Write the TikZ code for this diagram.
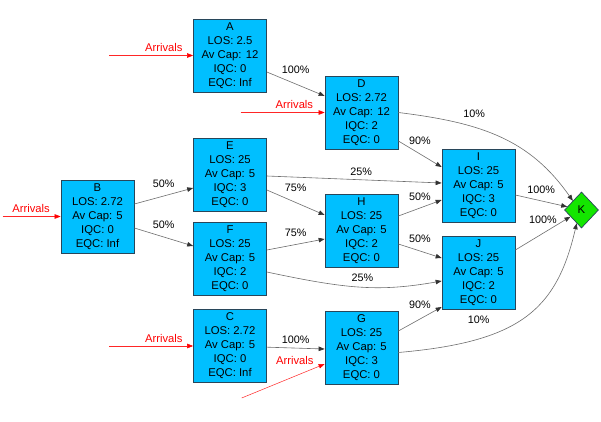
\documentclass[tikz,border=0pt]{standalone}
\usepackage{fontspec}
\setmainfont{Liberation Sans}
\usetikzlibrary{arrows.meta,shapes.geometric,positioning}
\definecolor{boxfill}{RGB}{0,191,255}
\definecolor{boxline}{RGB}{40,70,90}
\definecolor{sinkfill}{RGB}{20,230,0}
\definecolor{flowline}{RGB}{110,110,110}
\newcommand{\qinfo}[5]{#1\\LOS: #2\\Av Cap: #3\\IQC: #4\\EQC: #5}
\tikzset{
  qbox/.style    = { draw=boxline, fill=boxfill, line width=0.7pt, minimum width=73pt,
    minimum height=73pt, inner sep=0pt, align=center, font=\fontsize{11.3}{14}\selectfont },
  sinknode/.style = { draw=boxline, fill=sinkfill, diamond, line width=0.7pt, minimum width=34pt,
    minimum height=36pt, inner sep=0pt, font=\fontsize{11.3}{14}\selectfont },
  flow/.style    = { draw=flowline, line width=0.6pt, -{Triangle[length=6pt,width=4.5pt,color=black!80]} },
  arrival/.style = { draw=red!85, line width=0.5pt, -{Triangle[length=6pt,width=4.5pt,color=red]} },
  pct/.style     = { font=\fontsize{10.8}{13}\selectfont, inner sep=0pt },
  arrtxt/.style  = { text=red, font=\fontsize{11.2}{13}\selectfont }
}
\begin{document}
\begin{tikzpicture}[x=1pt,y=-1pt,on grid]
  \fill[white] (0,0) rectangle (601,422);
  \useasboundingbox (0,0) rectangle (601,422);
  % queues
  \node[qbox] (B) at (97.5,216.5) {\qinfo{B}{2.72}{5}{0}{Inf}};
  \node[qbox, above right=42pt and 132.5pt of B] (E) {\qinfo{E}{25}{5}{3}{0}};
  \node[qbox, below=84pt of E] (F) {\qinfo{F}{25}{5}{2}{0}};
  \node[qbox, above=119pt of E] (A) {\qinfo{A}{2.5}{12}{0}{Inf}};
  \node[qbox, below=87.5pt of F] (C) {\qinfo{C}{2.72}{5}{0}{Inf}};
  \node[qbox, below right=57pt and 131.5pt of A] (D) {\qinfo{D}{2.72}{12}{2}{0}};
  \node[qbox, below=118pt of D] (H) {\qinfo{H}{25}{5}{2}{0}};
  \node[qbox, below=117.5pt of H] (G) {\qinfo{G}{25}{5}{3}{0}};
  \node[qbox, below right=73pt and 117pt of D] (I) {\qinfo{I}{25}{5}{3}{0}};
  \node[qbox, below=87pt of I] (J) {\qinfo{J}{25}{5}{2}{0}};
  \node[sinknode, below right=24.5pt and 103pt of I] (K) {K};
  % arrivals
  \coordinate[left=84pt of A.west] (arrA);
  \coordinate[left=84pt of D.west] (arrD);
  \coordinate[left=58pt of B.west] (arrB);
  \coordinate[left=84pt of C.west] (arrC);
  \coordinate[below left=50pt and 83pt of G.west] (arrG);
  \draw[arrival] (arrA) -- (A) node[arrtxt, pos=.65, above] {Arrivals};
  \draw[arrival] (arrD) -- (D) node[arrtxt, pos=.64, above] {Arrivals};
  \draw[arrival] (arrB) -- (B) node[arrtxt, pos=.49, above] {Arrivals};
  \draw[arrival] (arrC) -- (C) node[arrtxt, pos=.65, above] {Arrivals};
  \draw[arrival] (arrG) -- ([yshift=-16pt]G.west) node[arrtxt, pos=.64, above=8pt] {Arrivals};
  % routing
  \draw[flow] ([yshift=-16.5pt]A.east) -- ([yshift=16.5pt]D.west) node[pct, midway, yshift=14pt] {100\%};
  \draw[flow] (D.east) to[out=-7, in=125, out distance=84pt, in distance=75pt]
    node[pct, pos=.35, yshift=13pt] {10\%} (K.north west);
  \draw[flow] ([yshift=-28.5pt]D.east) -- ([yshift=18.5pt]I.west) node[pct, midway, yshift=13pt] {90\%};
  \draw[flow] ([yshift=12.5pt]B.east) -- ([yshift=-13.5pt]E.west) node[pct, midway, yshift=12pt] {50\%};
  \draw[flow] ([yshift=-11.5pt]B.east) -- ([yshift=12.5pt]F.west) node[pct, midway, yshift=12pt] {50\%};
  \draw[flow] ([yshift=-1.5pt]E.east) -- ([yshift=2.5pt]I.west) node[pct, pos=.54, yshift=7.5pt] {25\%};
  \draw[flow] ([yshift=-15.5pt]E.east) -- ([yshift=15.5pt]H.west) node[pct, midway, yshift=14.5pt] {75\%};
  \draw[flow] ([yshift=8.5pt]F.east) -- ([yshift=-8.5pt]H.west) node[pct, midway, yshift=11.5pt] {75\%};
  \draw[flow] ([yshift=-13.5pt]F.east) to[out=-12, in=190, out distance=81pt, in distance=64pt]
    node[pct, pos=.5, xshift=2pt, yshift=9pt] {25\%} ([yshift=-8.5pt]J.west);
  \draw[flow] ([yshift=14.5pt]H.east) -- ([yshift=-14.5pt]I.west) node[pct, midway, yshift=11pt] {50\%};
  \draw[flow] ([yshift=-13.5pt]H.east) -- ([yshift=14.5pt]J.west) node[pct, midway, yshift=12pt] {50\%};
  \draw[flow] ([yshift=-9.5pt]I.east) -- (K) node[pct, midway, yshift=11.5pt] {100\%};
  \draw[flow] ([yshift=22.5pt]J.east) -- (K) node[pct, midway, yshift=14pt] {100\%};
  \draw[flow] ([yshift=17pt]G.east) -- ([yshift=-34.5pt]J.west) node[pct, midway, yshift=14pt] {90\%};
  \draw[flow] ([yshift=-4.5pt]G.east) to[out=5, in=-103, out distance=121pt, in distance=90pt]
    node[pct, pos=.26, xshift=2pt, yshift=20pt] {10\%} (K.250);
  \draw[flow] (C) -- ([yshift=-1pt]G.west) node[pct, midway, yshift=8.5pt] {100\%};
\end{tikzpicture}
\end{document}
